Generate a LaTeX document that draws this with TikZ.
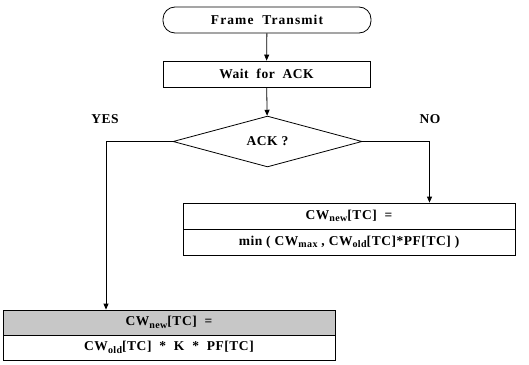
\documentclass[tikz,border=0pt]{standalone}
\usepackage{fontspec}
\setmainfont{Liberation Serif}[LetterSpace=4]
\usetikzlibrary{shapes.geometric,arrows.meta}
\newcommand{\sub}[1]{\raisebox{-2.5pt}{\fontsize{10}{10}\selectfont #1}}
\begin{document}
\begin{tikzpicture}[x=1pt,y=-1pt,
  every node/.style={font=\fontsize{13.5}{15}\selectfont\bfseries, inner sep=0pt},
  box/.style={draw, line width=0.8pt, minimum width=332pt, minimum height=26pt},
  arr/.style={line width=0.8pt, -{Triangle[width=5pt,length=6pt]}},
  ln/.style={line width=0.8pt}]
\useasboundingbox (0,0) rectangle (529,364);
\node[draw, line width=0.8pt, rounded corners=12pt, minimum width=208pt, minimum height=26pt, font=\fontsize{13.5}{15}\selectfont\bfseries\addfontfeature{LetterSpace=8}] (ft) at (267,20) {Frame\ \ Transmit};
\node[draw, line width=0.8pt, minimum width=207pt, minimum height=26pt] (wait) at (266.5,74) {Wait\ \ for\ \ ACK};
\node[draw, line width=0.8pt, diamond, minimum width=189pt, minimum height=48pt] (ack) at (267.5,141.5) {ACK ?};
\node[box] (rtop) at (349,216) {CW\sub{new}[TC]\ \ =};
\node[box] (rbot) at (349,242) {min ( CW\sub{max} , CW\sub{old}[TC]*PF[TC] )};
\node[box, fill=black!22, minimum height=25pt] (btop) at (169,322.5) {CW\sub{new}[TC]\ \ =};
\node[box, minimum height=25pt] (bbot) at (169,347.5) {CW\sub{old}[TC]\ \ *\ \ K\ \ *\ \ PF[TC]};
\node (yes) at (105,119) {YES};
\node (no) at (430,119) {NO};
\coordinate (yc) at (106,141.5);
\coordinate (nc) at (429.5,141.5);
\draw[arr] (ft) -- (wait);
\draw[arr] (wait) -- (ack);
\draw[ln] (ack.west) -- (yc);
\draw[arr] (yc) -- (yc |- btop.north);
\draw[ln] (ack.east) -- (nc);
\draw[arr] (nc) -- (nc |- rtop.north);
\end{tikzpicture}
\end{document}
